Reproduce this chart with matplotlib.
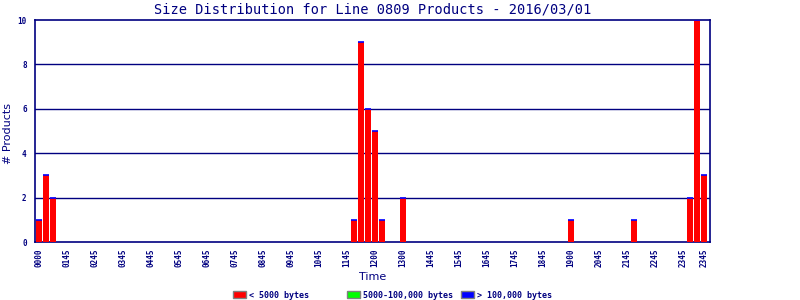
import matplotlib
matplotlib.use("Agg")
import matplotlib.pyplot as plt
import numpy as np

# 15-minute slots over the day
slot_labels = [f"{h:02d}{m:02d}" for h in range(24) for m in (0, 15, 30, 45)]

# products per slot, by size class
small_counts = [1, 3, 2, 0, 0, 0, 0, 0, 0, 0, 0, 0, 0, 0, 0, 0,
                0, 0, 0, 0, 0, 0, 0, 0, 0, 0, 0, 0, 0, 0, 0, 0,
                0, 0, 0, 0, 0, 0, 0, 0, 0, 0, 0, 0, 0, 1, 9, 6,
                5, 1, 0, 0, 2, 0, 0, 0, 0, 0, 0, 0, 0, 0, 0, 0,
                0, 0, 0, 0, 0, 0, 0, 0, 0, 0, 0, 0, 1, 0, 0, 0,
                0, 0, 0, 0, 0, 1, 0, 0, 0, 0, 0, 0, 0, 2, 10, 3]
medium_counts = [0] * 96
large_counts = [0] * 96

# tick labels as printed on the original chart
tick_slots = [0, 4, 8, 12, 16, 20, 24, 28, 32, 36, 40, 44, 48, 52, 56,
              60, 64, 68, 72, 76, 80, 84, 88, 92, 95]
tick_labels = ['0000', '0145', '0245', '0345', '0445', '0545', '0645', '0745',
               '0845', '0945', '1045', '1145', '1200', '1300', '1445', '1545',
               '1645', '1745', '1845', '1900', '2045', '2145', '2245', '2345',
               '2345']

NAVY = '#000080'
MONO = 'DejaVu Sans Mono'

fig = plt.figure(figsize=(8, 3), dpi=100)
ax = fig.add_axes([35 / 800, 58 / 300, 675 / 800, 222 / 300])

x = np.arange(len(slot_labels))
small = np.array(small_counts)
medium = np.array(medium_counts)
large = np.array(large_counts)
w = 6 / 7

b1 = ax.bar(x, small, width=w, align='edge', color='#ff0000', linewidth=0,
            label='< 5000 bytes', zorder=3)
b2 = ax.bar(x, medium, width=w, align='edge', bottom=small, color='#00ff00',
            linewidth=0, label='5000-100,000 bytes', zorder=3)
# the blue segment shows as a thin cap on every occupied slot
has = (small + medium + large) > 0
b3 = ax.bar(x[has], large[has], width=w, align='edge',
            bottom=(small + medium)[has], color='#0000ff',
            edgecolor='#0000ff', linewidth=1.2, label='> 100,000 bytes', zorder=4)

ax.set_xlim(-1 / 7, 96 + 2 / 7)
ax.set_ylim(0, 10)
ax.set_yticks([0, 2, 4, 6, 8, 10])
ax.set_yticklabels(['0', '2', '4', '6', '8', '10'])
ax.set_xticks(np.array(tick_slots) + 3 / 7)
ax.set_xticklabels(tick_labels, rotation=90)
ax.tick_params(axis='both', length=0, colors=NAVY, labelsize=5.5)
ax.tick_params(axis='x', pad=5)
ax.tick_params(axis='y', pad=6)
for lab in ax.get_xticklabels() + ax.get_yticklabels():
    lab.set_family(MONO)
    lab.set_fontweight('bold')

for yv in [2, 4, 6, 8]:
    ax.axhline(yv, color=NAVY, linewidth=1, zorder=1)
for s in ax.spines.values():
    s.set_color(NAVY)
    s.set_linewidth(1.2)

ax.set_title('Size Distribution for Line 0809 Products - 2016/03/01',
             family=MONO, fontsize=9.8, color=NAVY, pad=5)
ax.set_ylabel('# Products', fontsize=8, color=NAVY, va='center')
ax.yaxis.set_label_coords((8 - 35) / 675, 0.49)
ax.set_xlabel('Time', fontsize=8, color=NAVY, labelpad=3)

# one legend per entry, placed like the original's fixed slots
for handle, xpos in zip([b1, b2, b3], [233, 347, 461]):
    leg = fig.legend(handles=[handle], loc='center left',
                     bbox_to_anchor=(xpos / 800, 1 - 295 / 300), frameon=False,
                     prop={'family': MONO, 'size': 6, 'weight': 'bold'},
                     handlelength=1.5, handleheight=1.0, handletextpad=0.4,
                     borderpad=0, borderaxespad=0)
    for h in leg.legend_handles:
        h.set_edgecolor('#808080')
        h.set_linewidth(1)
    for t in leg.get_texts():
        t.set_color(NAVY)

fig.savefig('out.png', dpi=100)
